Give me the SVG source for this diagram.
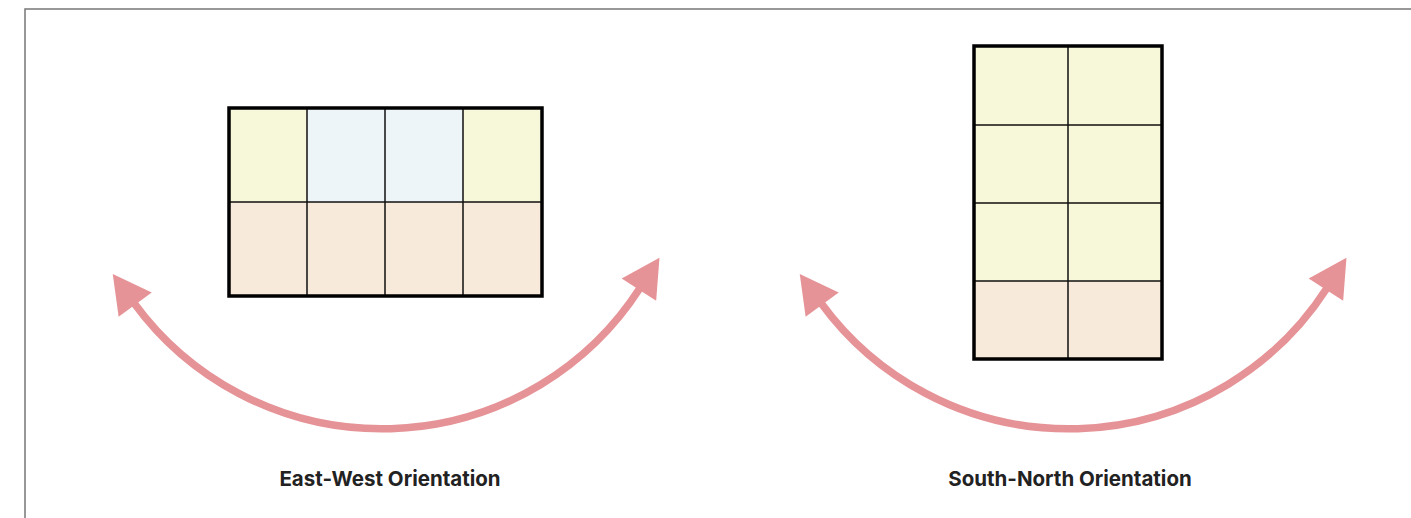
<svg xmlns="http://www.w3.org/2000/svg" width="1411" height="518" viewBox="0 0 1411 518">
<style>
.y{fill:#F7F7DA}
.b{fill:#EDF5F9}
.p{fill:#F7EADB}
.ln{stroke:#111;stroke-width:1.5;fill:none}
.out{fill:none;stroke:#000;stroke-width:3.5}
.arc{fill:none;stroke:#E69397;stroke-width:7.5}
.lbl{font-family:Inter,"Liberation Sans",sans-serif;font-weight:700;font-size:20.5px;fill:#222;text-anchor:middle}
</style>
<defs>
<marker id="ah" markerUnits="userSpaceOnUse" viewBox="-3 -22 41 44" markerWidth="41" markerHeight="44" refX="0" refY="0" orient="auto-start-reverse" overflow="visible">
<path d="M-2,-20.5 L36,0 L-2,20.5 Z" fill="#E69397"/>
</marker>
</defs>
<rect x="25" y="9" width="1420" height="540" fill="#fff" stroke="#777" stroke-width="1.5"/>
<g id="east-west-grid">
<rect class="y" x="229" y="108" width="78" height="94"/>
<rect class="b" x="307" y="108" width="156" height="94"/>
<rect class="y" x="463" y="108" width="79" height="94"/>
<rect class="p" x="229" y="202" width="313" height="94"/>
<path class="ln" d="M307,108V296M385,108V296M463,108V296M229,202H542"/>
<rect class="out" x="229" y="108" width="313" height="188"/>
</g>
<g id="south-north-grid">
<rect class="y" x="974" y="46" width="188" height="235"/>
<rect class="p" x="974" y="281" width="188" height="78"/>
<path class="ln" d="M1068,46V359M974,125H1162M974,203H1162M974,281H1162"/>
<rect class="out" x="974" y="46" width="188" height="313"/>
</g>
<g id="connectors">
<path class="arc" d="M134,303 A307,307 0 0 0 640,288" marker-start="url(#ah)" marker-end="url(#ah)"/>
<path class="arc" d="M821,303 A307,307 0 0 0 1327,288" marker-start="url(#ah)" marker-end="url(#ah)"/>
</g>
<g id="labels">
<text class="lbl" x="390" y="486">East-West Orientation</text>
<text class="lbl" x="1070" y="486">South-North Orientation</text>
</g>
</svg>
